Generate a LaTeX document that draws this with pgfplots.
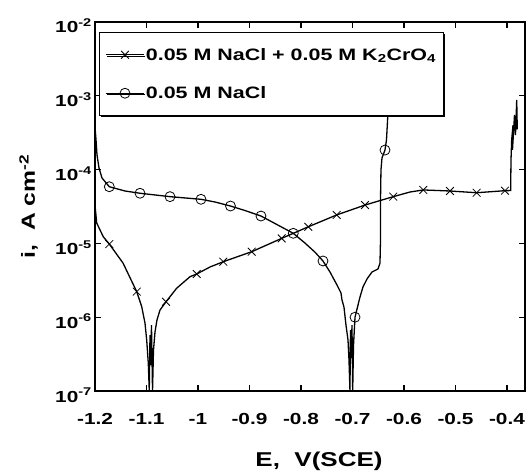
\documentclass[border=0pt]{standalone}
\usepackage{fontspec}
\setmainfont{Liberation Sans}[FakeStretch=1.3]
\usepackage{pgfplots}
\pgfplotsset{compat=1.18}
\usetikzlibrary{shadows}

% NaCl + K2CrO4 (crosses)
\pgfplotstableread{
x y
-1.2000 3.31e-5
-1.1967 1.89e-5
-1.1839 1.23e-5
-1.1722 9.8e-6
-1.1456 5.42e-6
-1.1190 2.22e-6
-1.1093 1.39e-6
-1.1029 8.3e-7
-1.0996 4.9e-7
-1.0965 2.37e-7
-1.0946 1.0e-7
-1.0932 5.7e-7
-1.0918 2.25e-7
-1.0903 7.8e-7
-1.0883 1.0e-7
-1.0864 3.6e-7
-1.0835 6.3e-7
-1.0796 9.2e-7
-1.0738 1.25e-6
-1.0621 1.62e-6
-1.0414 2.47e-6
-1.0155 3.54e-6
-1.0025 3.85e-6
-0.9767 4.79e-6
-0.9509 5.65e-6
-0.8957 7.72e-6
-0.8375 1.17e-5
-0.7858 1.68e-5
-0.7307 2.43e-5
-0.6757 3.31e-5
-0.6208 4.30e-5
-0.5883 4.97e-5
-0.5625 5.30e-5
-0.5107 5.13e-5
-0.4589 4.86e-5
-0.4039 5.18e-5
-0.3929 5.20e-5
-0.3922 1.35e-4
-0.3909 2.52e-4
-0.3883 4.0e-4
-0.3893 1.85e-4
-0.3854 5.5e-4
-0.3835 2.94e-4
-0.3811 8.8e-4
-0.3800 3.5e-4
}\chromate

% NaCl (circles)
\pgfplotstableread{
x y
-1.2000 3.8e-4
-1.1980 2.52e-4
-1.1961 1.58e-4
-1.1922 1.05e-4
-1.1864 7.7e-5
-1.1722 5.86e-5
-1.1417 5.13e-5
-1.1126 4.78e-5
-1.0544 4.30e-5
-0.9942 3.96e-5
-0.9670 3.64e-5
-0.9369 3.21e-5
-0.9087 2.79e-5
-0.8777 2.35e-5
-0.8447 1.77e-5
-0.8150 1.37e-5
-0.7922 1.01e-5
-0.7728 7.6e-6
-0.7573 5.78e-6
-0.7437 4.1e-6
-0.7301 2.73e-6
-0.7223 2.13e-6
-0.7204 1.71e-6
-0.7165 1.37e-6
-0.7126 7.8e-7
-0.7087 4.9e-7
-0.7068 2.63e-7
-0.7049 1.0e-7
-0.7039 6.7e-7
-0.7023 2.8e-7
-0.7010 7.8e-7
-0.6996 1.0e-7
-0.6980 4.2e-7
-0.6951 1.0e-6
-0.6893 1.46e-6
-0.6854 1.88e-6
-0.6796 2.57e-6
-0.6718 3.3e-6
-0.6621 4.1e-6
-0.6505 4.5e-6
-0.6466 5.4e-6
-0.6456 1.11e-5
-0.6456 3.87e-5
-0.6447 9.9e-5
-0.6427 1.44e-4
-0.6369 1.84e-4
-0.6340 2.52e-4
-0.6305 7.0e-4
}\nacl

\begin{document}
\begin{tikzpicture}
\begin{semilogyaxis}[
    scale only axis,
    width=430pt, height=369pt,
    xmin=-1.2, xmax=-0.365,
    ymin=1e-7, ymax=1e-2,
    axis line style={line width=1.5pt},
    xtick={-1.2,-1.1,-1,-0.9,-0.8,-0.7,-0.6,-0.5,-0.4},
    xticklabels={-1.2,-1.1,-1,-0.9,-0.8,-0.7,-0.6,-0.5,-0.4},
    ytick={1e-7,1e-6,1e-5,1e-4,1e-3,1e-2},
    yticklabels={10\textsuperscript{-7},10\textsuperscript{-6},10\textsuperscript{-5},10\textsuperscript{-4},10\textsuperscript{-3},10\textsuperscript{-2}},
    yminorticks=false,
    tick align=inside,
    major tick length=6pt,
    tick style={line width=1.2pt, black},
    every tick label/.append style={font=\fontsize{16}{16}\selectfont\bfseries},
    xticklabel shift=22pt,
    xticklabel style={inner sep=0pt, anchor=north},
    yticklabel shift=3pt,
    yticklabel style={inner sep=0pt, anchor=base east, yshift=-11pt},
    xlabel={E,\ \ V(SCE)},
    xlabel style={at={(axis description cs:0.521,-0.1653)}, anchor=north, inner sep=0pt,
        font=\fontsize{20}{20}\selectfont\bfseries},
    ylabel={i,\ \ A cm\textsuperscript{-2}},
    ylabel style={at={(axis description cs:-0.1326,0.5)}, anchor=south, inner sep=0pt,
        font=\fontsize{19}{19}\selectfont\bfseries},
    legend style={at={(rel axis cs:0.0093,0.973)}, anchor=north west,
        draw=black, line width=1.2pt, fill=white,
        drop shadow={shadow xshift=1.5pt, shadow yshift=-1.5pt, opacity=1, fill=black},
        font=\fontsize{16.5}{16.5}\selectfont\bfseries,
        inner xsep=6pt, inner ysep=14pt, row sep=22pt,
        nodes={inner sep=1.5pt}},
    legend cell align=left,
    legend image code/.code={
        \draw[mark repeat=2, mark phase=2, #1] plot coordinates {(0pt,0pt) (19pt,0pt) (38pt,0pt)};
    },
]
\coordinate (sw) at (rel axis cs:0,0);

\addlegendimage{black, line width=0.8pt, mark=x, mark size=5.5pt}
\addlegendentry{0.05 M NaCl + 0.05 M K\textsubscript{2}CrO\textsubscript{4}}
\addlegendimage{black, line width=0.8pt, mark=o, mark size=5pt}
\addlegendentry{0.05 M NaCl}

\addplot[black, line width=1.3pt, mark=x, mark size=5.5pt,
    mark options={solid, line width=0.8pt},
    mark indices={4,6,20,23,25,26,27,28,29,30,31,33,34,35,36}, forget plot]
    table {\chromate};

\addplot[black, line width=1.3pt, mark=o, mark size=5pt,
    mark options={solid, line width=0.8pt},
    mark indices={6,8,9,10,12,14,16,19,34,46}, forget plot]
    table {\nacl};
\end{semilogyaxis}
\pgfresetboundingbox
\path[use as bounding box] ([shift={(-95pt,-79pt)}]sw) rectangle ([shift={(431pt,391pt)}]sw);
\end{tikzpicture}
\end{document}
